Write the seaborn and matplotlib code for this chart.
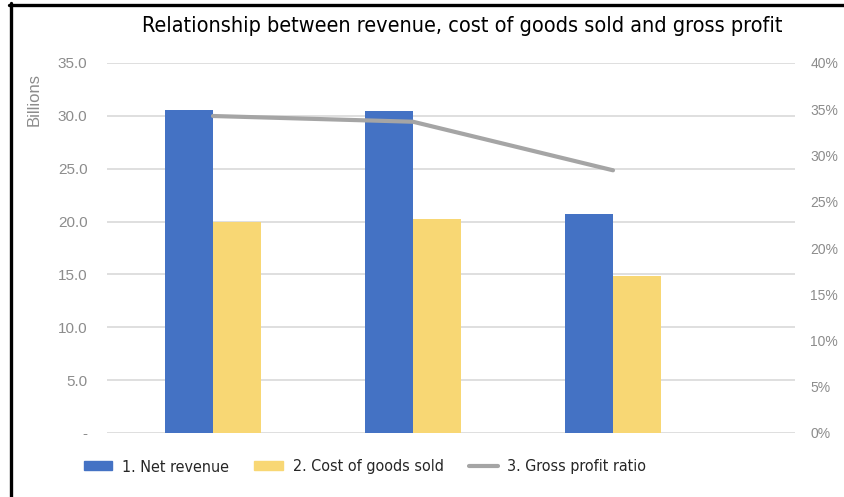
import matplotlib
matplotlib.use("Agg")
import matplotlib.pyplot as plt
import seaborn as sns
import pandas as pd
from matplotlib.patches import Patch
from matplotlib.lines import Line2D
from matplotlib.ticker import FixedLocator, FixedFormatter

# ---- data ----
periods = ["P1", "P2", "P3"]
net_revenue = [30.56, 30.46, 20.72]          # billions
cost_of_goods = [19.99, 20.20, 14.85]        # billions
gross_profit_ratio = [0.3427, 0.3365, 0.284] # fraction
series_names = ["1. Net revenue", "2. Cost of goods sold", "3. Gross profit ratio"]
left_ticks = [0, 5, 10, 15, 20, 25, 30, 35]
left_labels = ["-", "5.0", "10.0", "15.0", "20.0", "25.0", "30.0", "35.0"]
right_ticks = [0, 0.05, 0.10, 0.15, 0.20, 0.25, 0.30, 0.35, 0.40]
right_labels = ["0%", "5%", "10%", "15%", "20%", "25%", "30%", "35%", "40%"]
title = "Relationship between revenue, cost of goods sold and gross profit"

df = pd.DataFrame({
    "period": periods * 2,
    "value": net_revenue + cost_of_goods,
    "series": [series_names[0]] * 3 + [series_names[1]] * 3,
})
line_df = pd.DataFrame({"x": list(range(len(periods))), "ratio": gross_profit_ratio})

BLUE = "#4472C4"
GOLD = "#F8D774"
GRAY = "#A5A5A5"
TICK = "#8C8C8C"
GRID = "#D9D9D9"

sns.set_theme(style="white")
plt.rcParams["font.family"] = ["Liberation Sans", "DejaVu Sans"]
cond = {"family": "DejaVu Sans", "stretch": "condensed"}

fig = plt.figure(figsize=(8.44, 4.97), dpi=100)
ax = fig.add_axes([107 / 844, 1 - 433 / 497, (795 - 107) / 844, (433 - 63) / 497])

sns.barplot(data=df, x="period", y="value", hue="series", order=periods,
            palette=[BLUE, GOLD], width=0.48, gap=0, saturation=1,
            linewidth=0, legend=False, ax=ax, zorder=2)
ax.set_ylim(0, 35)
ax.set_xlim(-0.53, 2.91)
ax.yaxis.set_major_locator(FixedLocator(left_ticks))
ax.yaxis.set_major_formatter(FixedFormatter(left_labels))
ax.set_xticks([])
ax.set_xlabel("")
ax.set_ylabel("Billions", color=TICK, fontsize=12)
ax.yaxis.set_label_coords(-0.095, 0.90)
ax.grid(axis="y", color=GRID, lw=1.2, zorder=0)
ax.set_axisbelow(True)
ax.tick_params(axis="y", colors=TICK, labelsize=11, length=0, pad=14)
for s in ax.spines.values():
    s.set_visible(False)

ax2 = ax.twinx()
sns.lineplot(data=line_df, x="x", y="ratio", color=GRAY, lw=3, ax=ax2, zorder=3)
ax2.set_ylim(0, 0.40)
ax2.yaxis.set_major_locator(FixedLocator(right_ticks))
ax2.yaxis.set_major_formatter(FixedFormatter(right_labels))
ax2.set_ylabel("")
ax2.set_xlim(-0.53, 2.91)
ax2.tick_params(axis="y", colors=TICK, labelsize=10, length=0, pad=11)
for s in ax2.spines.values():
    s.set_visible(False)

fig.text(462 / 844, 1 - 26 / 497, title, ha="center", va="center",
         fontsize=15.5, color="black", **cond)

handles = [Patch(color=BLUE), Patch(color=GOLD), Line2D([], [], color=GRAY, lw=3)]
leg = fig.legend(handles, series_names, loc="center",
                 bbox_to_anchor=(365 / 844, 1 - 467 / 497), ncol=3, frameon=False,
                 prop={"family": "DejaVu Sans", "stretch": "condensed", "size": 11.5},
                 handlelength=1.8, handleheight=0.5, columnspacing=1.6,
                 handletextpad=0.6)

# partial frame: top and left edges
fig.add_artist(Line2D([9 / 844, 1.0], [1 - 4.5 / 497, 1 - 4.5 / 497],
                      transform=fig.transFigure, color="black", lw=2.4))
fig.add_artist(Line2D([10.5 / 844, 10.5 / 844], [1 - 3 / 497, 0.0],
                      transform=fig.transFigure, color="black", lw=2.4))

fig.savefig("out.png", dpi=100)
